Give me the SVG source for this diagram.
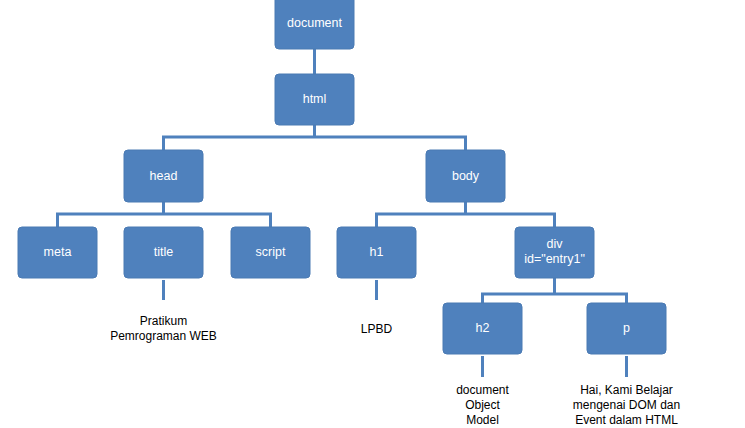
<svg xmlns="http://www.w3.org/2000/svg" width="745" height="428" viewBox="0 0 745 428">
<style>
.box{fill:#4F81BD;stroke:#4a7ab3;stroke-width:1}
.lbl{font-family:"Liberation Sans",Arial,sans-serif;font-size:12.5px;fill:#ffffff;text-anchor:middle}
.txt{font-family:"Liberation Sans",Arial,sans-serif;font-size:12px;fill:#000000;text-anchor:middle}
.con{stroke:#4F81BD;stroke-width:3;fill:none}
</style>
<rect width="745" height="428" fill="#ffffff"/>
<g id="connectors">
<path class="con" d="M314.5 49V74"/>
<path class="con" d="M314.5 125V137M163.5 150V137H465.5V150"/>
<path class="con" d="M163.5 202V214M57.5 227V214H270.5V227"/>
<path class="con" d="M465.5 202V214M376.5 227V214H554.5V227"/>
<path class="con" d="M554.5 278V294M482.5 303V294H626.5V303"/>
<path class="con" d="M163.5 280V300"/>
<path class="con" d="M376.5 280V300"/>
<path class="con" d="M482.5 356V377"/>
<path class="con" d="M626.5 356V377"/>
</g>
<g id="document"><rect class="box" x="275" y="-4" width="79" height="53" rx="4"/><text class="lbl" x="314.5" y="27">document</text></g>
<g id="html"><rect class="box" x="275" y="74" width="79" height="51" rx="4"/><text class="lbl" x="314.5" y="103">html</text></g>
<g id="head"><rect class="box" x="124" y="150" width="79" height="52" rx="4"/><text class="lbl" x="163.5" y="180">head</text></g>
<g id="body"><rect class="box" x="426" y="150" width="79" height="52" rx="4"/><text class="lbl" x="465.5" y="180">body</text></g>
<g id="meta"><rect class="box" x="18" y="227" width="79" height="51" rx="4"/><text class="lbl" x="57.5" y="256">meta</text></g>
<g id="title"><rect class="box" x="124" y="227" width="79" height="51" rx="4"/><text class="lbl" x="163.5" y="256">title</text></g>
<g id="script"><rect class="box" x="231" y="227" width="79" height="51" rx="4"/><text class="lbl" x="270.5" y="256">script</text></g>
<g id="h1"><rect class="box" x="337" y="227" width="79" height="51" rx="4"/><text class="lbl" x="376.5" y="256">h1</text></g>
<g id="div"><rect class="box" x="515" y="227" width="79" height="51" rx="4"/><text class="lbl" x="554.5" y="248">div</text><text class="lbl" x="554.5" y="263">id="entry1"</text></g>
<g id="h2"><rect class="box" x="443" y="303" width="79" height="51" rx="4"/><text class="lbl" x="482.5" y="332">h2</text></g>
<g id="p"><rect class="box" x="587" y="303" width="79" height="51" rx="4"/><text class="lbl" x="626.5" y="332">p</text></g>
<g id="title-text"><text class="txt" x="163.5" y="325">Pratikum</text><text class="txt" x="163.5" y="340">Pemrograman WEB</text></g>
<g id="h1-text"><text class="txt" x="376.5" y="333">LPBD</text></g>
<g id="h2-text"><text class="txt" x="482.5" y="394">document</text><text class="txt" x="482.5" y="409">Object</text><text class="txt" x="482.5" y="424">Model</text></g>
<g id="p-text"><text class="txt" x="626.5" y="394">Hai, Kami Belajar</text><text class="txt" x="626.5" y="409">mengenai DOM dan</text><text class="txt" x="626.5" y="424">Event dalam HTML</text></g>
</svg>
